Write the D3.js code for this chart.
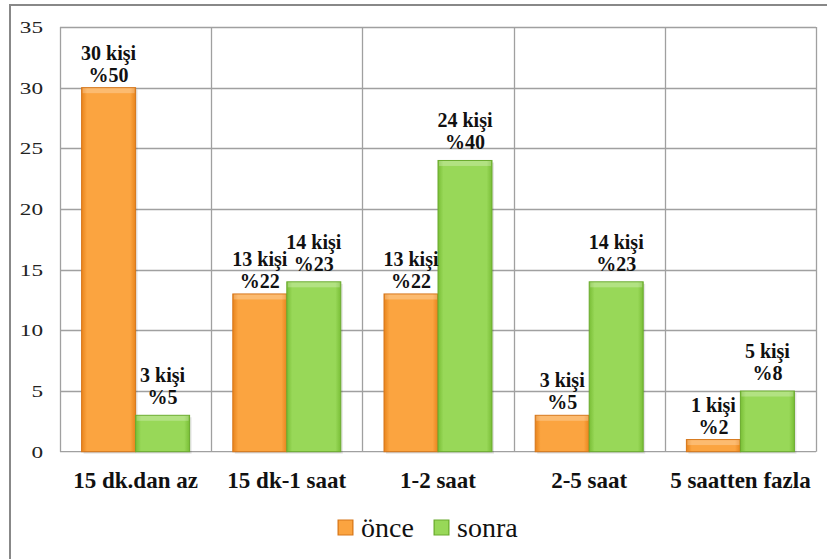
<!DOCTYPE html>
<html><head><meta charset="utf-8">
<script src="https://cdn.jsdelivr.net/npm/d3@7"></script>
<style>
text, tspan { font-family: "Liberation Serif" !important; }
</style>
</head><body style="margin:0;background:#fff">
<svg id="c" width="827" height="559" style="display:block" font-family="Liberation Serif"></svg>
<script>
const categories = ["15 dk.dan az","15 dk-1 saat","1-2 saat","2-5 saat","5 saatten fazla"];
const seriesNames = ["önce","sonra"];
const once = [30,13,13,3,1];
const sonra = [3,14,24,14,5];
const oncePct = ["%50","%22","%22","%5","%2"];
const sonraPct = ["%5","%23","%40","%23","%8"];
const yTicks = [0,5,10,15,20,25,30,35];

const svg = d3.select("#c");
const L=60,R=816,T=27,B=451.7;
const x = d3.scaleBand().domain(categories).range([L,R]);
const xs = d3.scaleBand().domain(seriesNames).range([0,x.bandwidth()]).paddingOuter(0.4);
const y = d3.scaleLinear().domain([0,35]).range([B,T]);

svg.append("rect").attr("x",10).attr("y",5).attr("width",830).attr("height",570)
  .attr("fill","none").attr("stroke","#888").attr("stroke-width",2);

const defs = svg.append("defs");
function grad(id, c1, c2){
  const g = defs.append("linearGradient").attr("id",id).attr("x1",0).attr("x2",1).attr("y1",0).attr("y2",0);
  g.append("stop").attr("offset","0").attr("stop-color",c2);
  g.append("stop").attr("offset","0.1").attr("stop-color",c1);
  g.append("stop").attr("offset","0.9").attr("stop-color",c1);
  g.append("stop").attr("offset","1").attr("stop-color",c2);
}
grad("gO","#FBA440","#E8841C");
grad("gG","#98D858","#79BE36");
const fills = {"önce":"url(#gO)","sonra":"url(#gG)"};
const strokes = {"önce":"#D5761A","sonra":"#6AAA2E"};
const labelGap = {"önce":6,"sonra":11};

// grid
svg.append("g").selectAll("line").data(yTicks.filter(d=>d>0)).join("line")
  .attr("x1",L).attr("x2",R).attr("y1",d=>Math.round(y(d))+0.5).attr("y2",d=>Math.round(y(d))+0.5)
  .attr("stroke","#a0a0a0").attr("stroke-width",1.3);
svg.append("g").selectAll("line").data(d3.range(categories.length+1)).join("line")
  .attr("x1",i=>Math.round(L+i*x.step())+0.5).attr("x2",i=>Math.round(L+i*x.step())+0.5)
  .attr("y1",T).attr("y2",B)
  .attr("stroke","#a0a0a0").attr("stroke-width",1.3);
svg.append("line").attr("x1",L).attr("x2",R).attr("y1",B).attr("y2",B).attr("stroke","#a0a0a0").attr("stroke-width",1.3);

// y axis labels
const yAxis = d3.axisLeft(y).tickValues(yTicks).tickSize(0).tickPadding(0);
const ga = svg.append("g").attr("transform",`translate(${L},0)`).call(yAxis);
ga.attr("font-family","Liberation Serif").attr("font-size",16);
ga.select(".domain").remove();
ga.selectAll("text").attr("font-family","Liberation Serif").attr("font-size",16).attr("fill","#222")
  .attr("x",null).attr("dy","0.35em").attr("text-anchor","end")
  .attr("transform","translate(-17,0) scale(1.45,1)");

// bars
const data = [];
categories.forEach((c,i)=>{
  data.push({c,s:"önce",v:once[i],p:oncePct[i]});
  data.push({c,s:"sonra",v:sonra[i],p:sonraPct[i]});
});
const bw = xs.bandwidth();
const g = svg.append("g");
g.selectAll("rect.shadow").data(data).join("rect")
  .attr("x",d=>x(d.c)+xs(d.s)+2).attr("y",d=>y(d.v)+2)
  .attr("width",bw).attr("height",d=>B-y(d.v)).attr("fill","#000").attr("opacity",0.1);
g.selectAll("rect.bar").data(data).join("rect")
  .attr("x",d=>x(d.c)+xs(d.s)).attr("y",d=>y(d.v))
  .attr("width",bw).attr("height",d=>B-y(d.v))
  .attr("fill",d=>fills[d.s]).attr("stroke",d=>strokes[d.s]).attr("stroke-width",1);
g.selectAll("rect.top").data(data).join("rect")
  .attr("x",d=>x(d.c)+xs(d.s)+1).attr("y",d=>y(d.v)+0.5)
  .attr("width",bw-2).attr("height",d=>Math.min(5,B-y(d.v)-1))
  .attr("fill","#fff").attr("opacity",0.25);

// value labels
const lab = svg.append("g").attr("font-family","Liberation Serif");
data.forEach(d=>{
  const cx = x(d.c)+xs(d.s)+bw/2;
  const t = lab.append("text").attr("x",cx).attr("y",y(d.v)-labelGap[d.s])
    .attr("font-family","Liberation Serif").attr("font-weight","bold").attr("font-size",20)
    .attr("text-anchor","middle").attr("fill","#111");
  t.append("tspan").attr("x",cx).attr("dy",-22).text(d.v+" kişi");
  t.append("tspan").attr("x",cx).attr("dy",22).text(d.p);
});

// x labels
svg.append("g").selectAll("text").data(categories).join("text")
  .attr("x",d=>x(d)+x.bandwidth()/2).attr("y",488)
  .attr("text-anchor","middle").attr("font-family","Liberation Serif").attr("font-weight","bold")
  .attr("font-size",23).attr("fill","#111").text(d=>d);

// legend
const leg = svg.append("g");
const lx = [338,434];
seriesNames.forEach((s,i)=>{
  leg.append("rect").attr("x",lx[i]).attr("y",520).attr("width",15).attr("height",15)
    .attr("fill",fills[s]).attr("stroke",strokes[s]);
  leg.append("text").attr("x",lx[i]+23).attr("y",537)
    .attr("font-family","Liberation Serif").attr("font-size",28).attr("fill","#111").text(s);
});
</script>
</body></html>
